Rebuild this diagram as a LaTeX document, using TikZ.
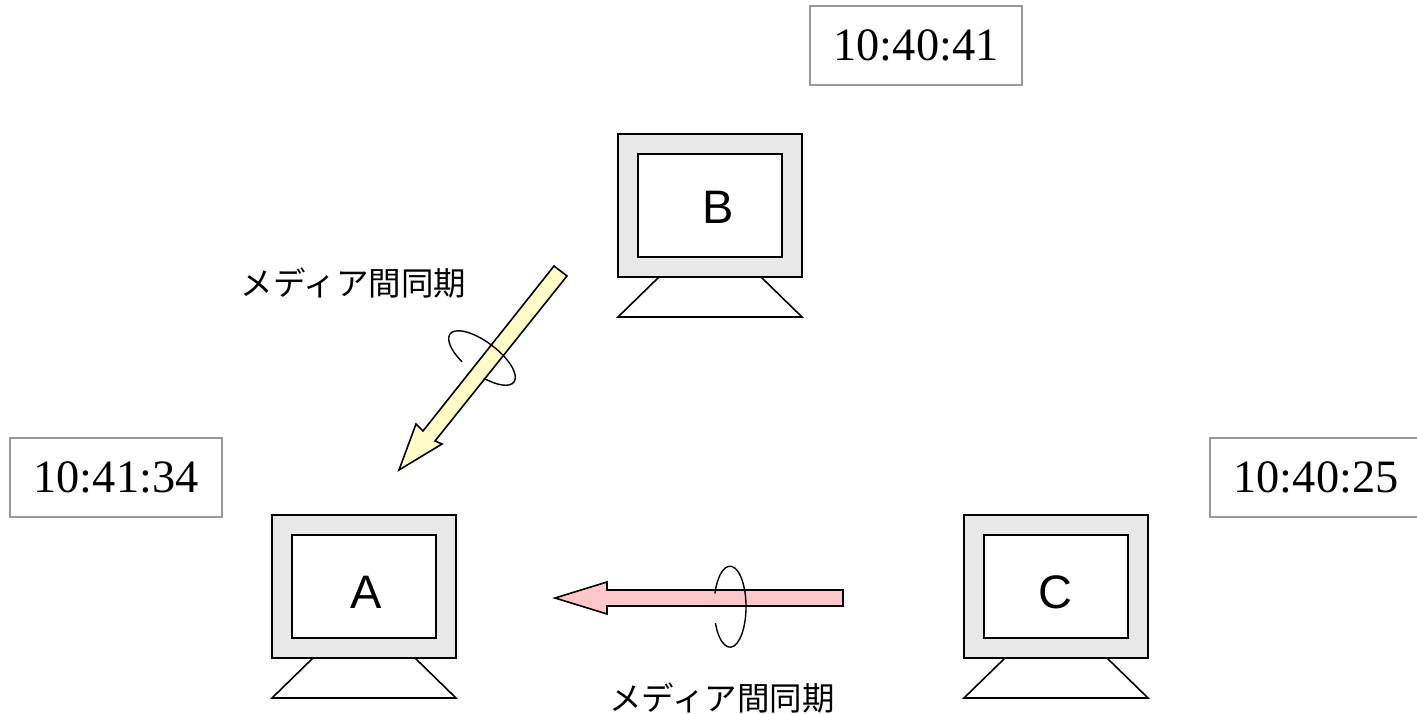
\documentclass[tikz,border=0pt]{standalone}
\usepackage{fontspec}
\setmainfont{Liberation Serif}
\newfontfamily\lsans{Liberation Sans}
\newfontfamily\cjkfont{Noto Sans CJK JP}
\tikzset{
  blk/.style={draw=black,line width=1.6pt},
  bezel/.style={blk,fill=black!9,rectangle,inner sep=0pt,minimum width=184pt,minimum height=143pt},
  screen/.style={blk,fill=white,rectangle,inner sep=0pt,minimum width=144pt,minimum height=103pt},
  letter/.style={font=\lsans\fontsize{47}{47}\selectfont,inner sep=0pt},
  clockbox/.style={draw=black!40,line width=1.8pt,fill=white,rectangle,inner sep=0pt,minimum width=212pt,minimum height=79pt,font=\fontsize{46.4}{46.4}\selectfont,text=black},
  jplabel/.style={font=\cjkfont\fontsize{32.5}{32.5}\selectfont,inner sep=0pt},
  blockarrow/.style={blk,line join=miter},
  spin/.style={draw=black,line width=1.4pt}
}
\begin{document}
\begin{tikzpicture}[x=1pt,y=1pt,yscale=-1]
\path[use as bounding box,clip] (0,0) rectangle (1417,714);
% monitors
\foreach \n/\cx/\cy/\lx/\ly in {B/710/205.5/718/207, A/364/586.5/366/592, C/1056/586.5/1055/592}{
  \draw[blk] (\cx-51,\cy+71.5) -- (\cx-92,\cy+111.5) -- (\cx+92,\cy+111.5) -- (\cx+51,\cy+71.5);
  \node[bezel] (bezel\n) at (\cx,\cy) {};
  \node[screen] (screen\n) at (\cx,\cy) {};
  \node[letter] (label\n) at (\lx,\ly) {\n};
}
% clocks
\node[clockbox] (clockB) at (916,45.5) {10:40:41};
\node[clockbox,align=center] (clockA) at (116,477.5) {10:41:34};
\node[clockbox] (clockC) at (1316,477.5) {10:40:25};
% yellow arrow
\draw[blockarrow,fill=yellow!22] (554,266) -- (567,276) -- (435,441) -- (442,444) -- (399,470) -- (416,424) -- (423,431) -- cycle;
\draw[spin,shift={(482,358)},rotate=37] (110:40 and 16) arc[start angle=110,end angle=430,x radius=40,y radius=16];
% pink arrow
\draw[blockarrow,fill=red!22] (843,590) -- (843,606) -- (607,606) -- (607,614) -- (555,598) -- (607,582) -- (607,590) -- cycle;
\draw[spin] (714.9,593.5) arc[start angle=199,end angle=516,x radius=16,y radius=40.5];
% labels
\node[jplabel] (jpAB) at (353.5,283) {メディア間同期};
\node[jplabel] (jpCA) at (722,698) {メディア間同期};
\end{tikzpicture}
\end{document}
